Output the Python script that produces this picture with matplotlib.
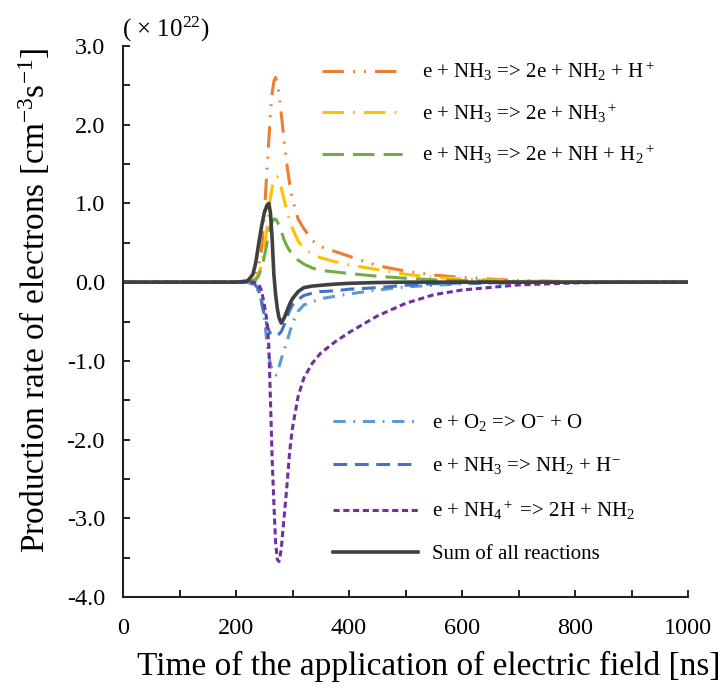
import matplotlib
matplotlib.use("Agg")
import matplotlib.pyplot as plt
from matplotlib.ticker import MultipleLocator, FuncFormatter

plt.rcParams['font.family'] = ['Liberation Serif', 'DejaVu Serif']
plt.rcParams['mathtext.fontset'] = 'custom'
plt.rcParams['mathtext.rm'] = 'Liberation Serif'
plt.rcParams['mathtext.it'] = 'Liberation Serif:italic'
plt.rcParams['mathtext.bf'] = 'Liberation Serif:bold'
plt.rcParams['axes.unicode_minus'] = False

# time grid [ns]
time_ns = [0, 200, 220, 230, 235, 240, 245, 250, 255, 258, 261, 264, 267, 270,
           273, 276, 280, 285, 290, 295, 300, 310, 320, 335, 350, 375, 400,
           450, 500, 550, 600, 700, 800, 900, 1000]

# production rates [x1e22 cm^-3 s^-1]
rate_nh2_hplus = [0, 0, 0.02, 0.06, 0.10, 0.20, 0.40, 0.85, 1.45, 1.80, 2.15, 2.40,
                  2.55, 2.60, 2.52, 2.40, 2.15, 1.80, 1.50, 1.25, 1.05, 0.80, 0.68,
                  0.53, 0.45, 0.39, 0.33, 0.21, 0.14, 0.09, 0.06, 0.02, 0.005, 0, 0]
rate_nh3plus = [0, 0, 0.01, 0.03, 0.05, 0.10, 0.20, 0.40, 0.70, 0.90, 1.08, 1.20,
                1.28, 1.33, 1.34, 1.30, 1.20, 1.05, 0.90, 0.78, 0.68, 0.52, 0.43,
                0.35, 0.31, 0.26, 0.22, 0.16, 0.10, 0.06, 0.04, 0.015, 0.005, 0, 0]
rate_nh_h2plus = [0, 0, 0.005, 0.02, 0.03, 0.08, 0.18, 0.32, 0.50, 0.62, 0.71, 0.77,
                  0.80, 0.80, 0.77, 0.72, 0.65, 0.54, 0.46, 0.40, 0.35, 0.28, 0.23,
                  0.18, 0.15, 0.13, 0.11, 0.075, 0.05, 0.03, 0.02, 0.005, 0, 0, 0]
rate_o2_attach = [0, 0, 0, -0.03, -0.06, -0.12, -0.25, -0.45, -0.78, -0.93, -1.04,
                  -1.12, -1.16, -1.18, -1.17, -1.08, -0.98, -0.87, -0.76, -0.64,
                  -0.52, -0.37, -0.29, -0.25, -0.21, -0.18, -0.15, -0.10, -0.06,
                  -0.04, -0.02, -0.01, 0, 0, 0]
rate_nh3_attach = [0, 0, 0, -0.02, -0.04, -0.10, -0.22, -0.42, -0.55, -0.61, -0.65,
                   -0.67, -0.68, -0.68, -0.67, -0.66, -0.63, -0.55, -0.45, -0.36,
                   -0.29, -0.22, -0.17, -0.14, -0.12, -0.11, -0.09, -0.07, -0.04,
                   -0.02, -0.01, -0.005, 0, 0, 0]
rate_nh4_recomb = [0, 0, 0, 0, -0.01, -0.03, -0.10, -0.28, -0.50, -0.80, -1.50,
                   -2.25, -2.80, -3.30, -3.52, -3.55, -3.40, -3.00, -2.60, -2.15,
                   -1.85, -1.45, -1.22, -1.03, -0.90, -0.76, -0.64, -0.43, -0.27,
                   -0.16, -0.10, -0.035, -0.01, 0, 0]
rate_total = [0, 0, 0.01, 0.10, 0.25, 0.48, 0.70, 0.88, 0.98, 1.00, 0.88, 0.55,
              0.10, -0.15, -0.33, -0.45, -0.52, -0.46, -0.37, -0.28, -0.21, -0.12,
              -0.07, -0.05, -0.04, -0.025, -0.015, -0.005, 0, 0, 0, 0, 0, 0, 0]

labels_prod = [r"e + NH$_3$ => 2e + NH$_2$ + H$^+$",
               r"e + NH$_3$ => 2e + NH$_3$$^+$",
               r"e + NH$_3$ => 2e + NH + H$_2$$^+$"]
labels_loss = [r"e + O$_2$ => O$^{-}$ + O",
               r"e + NH$_3$ => NH$_2$ + H$^{-}$",
               r"e + NH$_4$$^+$ => 2H + NH$_2$",
               "Sum of all reactions"]

fig = plt.figure(figsize=(7.23, 6.88), dpi=100)
ax = fig.add_axes([123 / 723, 91 / 688, 565 / 723, 551 / 688])

lw = 2.2
h1, = ax.plot(time_ns, rate_nh2_hplus, color='#ED7D31', lw=lw,
              linestyle=(0, (7, 3, 0.6, 3, 0.6, 3)))
h2, = ax.plot(time_ns, rate_nh3plus, color='#FFC000', lw=lw,
              linestyle=(0, (7, 3, 0.6, 3)))
h3, = ax.plot(time_ns, rate_nh_h2plus, color='#70AD47', lw=lw,
              linestyle=(0, (7, 3)))
h4, = ax.plot(time_ns, rate_o2_attach, color='#5B9BD5', lw=lw,
              linestyle=(0, (4, 2.5, 0.6, 2.5)))
h5, = ax.plot(time_ns, rate_nh3_attach, color='#4472C4', lw=lw,
              linestyle=(0, (4.5, 2.5)))
h6, = ax.plot(time_ns, rate_nh4_recomb, color='#7030A0', lw=lw,
              linestyle=(0, (2, 1.2)))
h7, = ax.plot(time_ns, rate_total, color='#404040', lw=2.6, linestyle='-')

ax.set_xlim(0, 1000)
ax.set_ylim(-4.0, 3.0)
ax.xaxis.set_major_locator(MultipleLocator(200))
ax.xaxis.set_minor_locator(MultipleLocator(100))
ax.yaxis.set_major_locator(MultipleLocator(1.0))
ax.yaxis.set_minor_locator(MultipleLocator(0.5))
ax.yaxis.set_major_formatter(FuncFormatter(lambda v, p: f"{v:.1f}"))
ax.xaxis.set_major_formatter(FuncFormatter(lambda v, p: f"{v:.0f}"))
ax.tick_params(which='both', direction='in', length=5, width=1.4,
               labelsize=17.5, color='#222222')
ax.tick_params(axis='x', pad=15)
ax.tick_params(axis='y', pad=13)
for s in ('top', 'right'):
    ax.spines[s].set_visible(False)
for s in ('left', 'bottom'):
    ax.spines[s].set_linewidth(1.5)
    ax.spines[s].set_color('#222222')

ax.set_xlabel("Time of the application of electric field [ns]", fontsize=24)
ax.xaxis.set_label_coords(0.541, -0.098)
ax.set_ylabel(r"Production rate of electrons [cm$^{-3}$s$^{-1}$]", fontsize=24)
ax.yaxis.set_label_coords(-0.125, 0.539)

fig.text(122 / 723, 1 - 29 / 688, r"( $\times$ 10$^{22}$)", fontsize=18,
         ha='left', va='center')

leg1 = ax.legend([h1, h2, h3], labels_prod, loc='upper left',
                 bbox_to_anchor=(322 / 723, 1 - 60 / 688),
                 bbox_transform=fig.transFigure, frameon=False, fontsize=15,
                 handlelength=3.85, handletextpad=0.95, labelspacing=0.88,
                 borderpad=0, borderaxespad=0)
ax.add_artist(leg1)
ax.legend([h4, h5, h6, h7], labels_loss, loc='upper left',
          bbox_to_anchor=(333 / 723, 1 - 412 / 688),
          bbox_transform=fig.transFigure, frameon=False, fontsize=15,
          handlelength=4.1, handletextpad=0.65, labelspacing=1.08,
          borderpad=0, borderaxespad=0)

fig.savefig("out.png", dpi=100)
